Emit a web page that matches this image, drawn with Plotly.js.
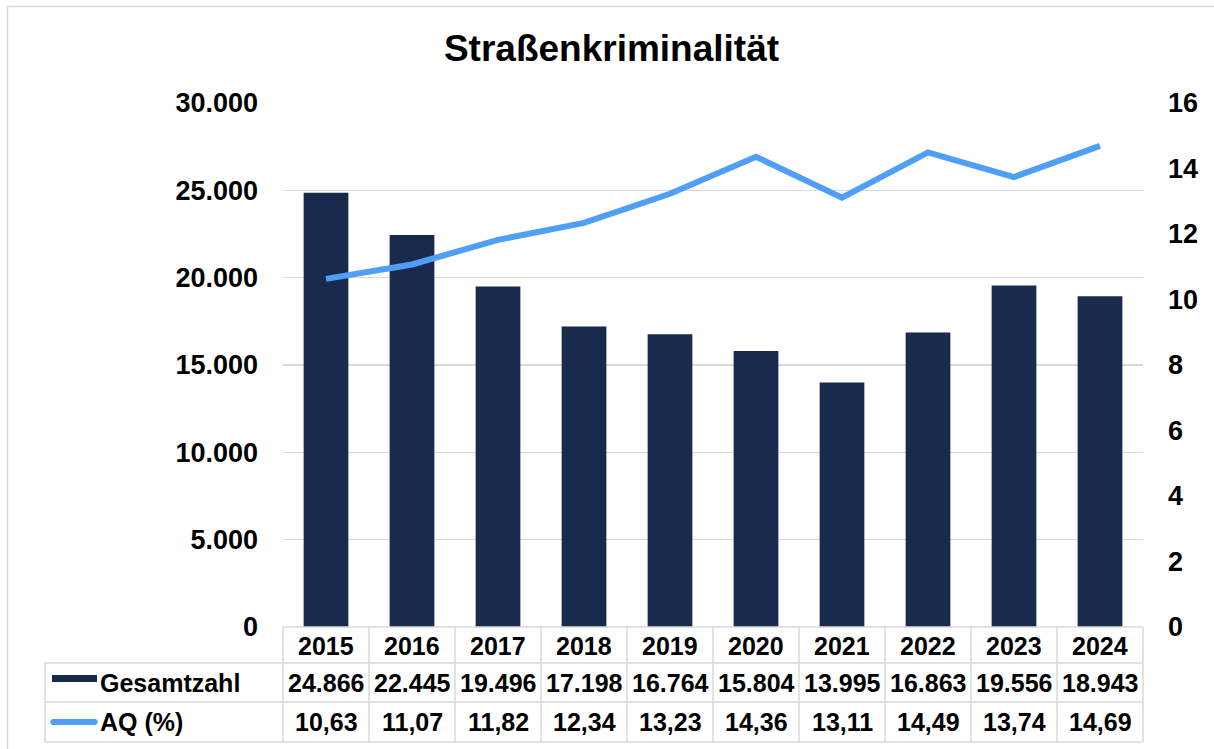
<!DOCTYPE html>
<html>
<head>
<meta charset="utf-8">
<script src="https://cdn.plot.ly/plotly-3.0.1.min.js"></script>
<style>html,body{margin:0;padding:0;background:#fff;}#chart{width:1214px;height:749px;}</style>
</head>
<body>
<div id="chart"></div>
<script>
// ---- data ----
var years = ["2015","2016","2017","2018","2019","2020","2021","2022","2023","2024"];
var gesamtzahl = [24866, 22445, 19496, 17198, 16764, 15804, 13995, 16863, 19556, 18943];
var aq = [10.63, 11.07, 11.82, 12.34, 13.23, 14.36, 13.11, 14.49, 13.74, 14.69];
var seriesNames = ["Gesamtzahl", "AQ (%)"];
var titleText = "Straßenkriminalität";

// ---- styling / layout helpers ----
var W = 1214, H = 749;
var L = 283, R = 1143, T = 103, B = 627;
var FONT = "Liberation Sans, Arial, Helvetica, sans-serif";
var barColor = "#192b4d", lineColor = "#4f9ef8", gridColor = "#d9d9d9";
function px(x){ return (x - L) / (R - L); }
function py(y){ return (B - y) / (B - T); }
function fmtInt(v){ return String(v).replace(/\B(?=(\d{3})+(?!\d))/g, "."); }
function fmtDec(v){ return v.toFixed(2).replace(".", ","); }

var traces = [
  { type: "bar", x: years, y: gesamtzahl, name: seriesNames[0],
    marker: { color: barColor }, hoverinfo: "skip", yaxis: "y" },
  { type: "scatter", mode: "lines", x: years, y: aq, name: seriesNames[1],
    line: { color: lineColor, width: 6 }, hoverinfo: "skip", yaxis: "y2" }
];

var shapes = [];
var lineStyle = { color: gridColor, width: 1.5 };
// outer chart border
shapes.push({ type: "rect", xref: "paper", yref: "paper",
  x0: px(7.5), x1: px(1230), y0: py(6.5), y1: py(770),
  line: { color: gridColor, width: 1.5 }, fillcolor: "rgba(0,0,0,0)", layer: "below" });
// table horizontal lines
shapes.push({ type: "line", xref: "paper", yref: "paper", x0: 0, x1: 1, y0: 0, y1: 0, line: lineStyle });
[663, 702, 742].forEach(function(y){
  shapes.push({ type: "line", xref: "paper", yref: "paper", x0: px(45), x1: 1, y0: py(y), y1: py(y), line: lineStyle });
});
// table vertical lines
shapes.push({ type: "line", xref: "paper", yref: "paper", x0: px(45), x1: px(45), y0: py(663), y1: py(742), line: lineStyle });
for (var i = 0; i <= years.length; i++) {
  var xp = i / years.length;
  shapes.push({ type: "line", xref: "paper", yref: "paper", x0: xp, x1: xp, y0: 0, y1: py(742), line: lineStyle });
}
// legend keys
shapes.push({ type: "rect", xref: "paper", yref: "paper", x0: px(52), x1: px(97), y0: py(675), y1: py(682),
  fillcolor: barColor, line: { width: 0 } });
shapes.push({ type: "path", xref: "paper", yref: "paper",
  path: "M" + px(52) + "," + py(719) + " L" + px(96) + "," + py(719) +
        " Q" + px(99.5) + "," + py(722) + " " + px(96) + "," + py(725) +
        " L" + px(52) + "," + py(725) +
        " Q" + px(48.5) + "," + py(722) + " " + px(52) + "," + py(719) + " Z",
  fillcolor: lineColor, line: { width: 0 } });

var annotations = [];
var tFont = { family: FONT, size: 25, color: "#000000" };
for (var j = 0; j < years.length; j++) {
  annotations.push({ xref: "x", yref: "paper", x: j, y: py(646), text: "<b>" + years[j] + "</b>",
    showarrow: false, font: tFont, xanchor: "center", yanchor: "middle" });
  annotations.push({ xref: "x", yref: "paper", x: j, y: py(683), text: "<b>" + fmtInt(gesamtzahl[j]) + "</b>",
    showarrow: false, font: tFont, xanchor: "center", yanchor: "middle" });
  annotations.push({ xref: "x", yref: "paper", x: j, y: py(722), text: "<b>" + fmtDec(aq[j]) + "</b>",
    showarrow: false, font: tFont, xanchor: "center", yanchor: "middle" });
}
annotations.push({ xref: "paper", yref: "paper", x: px(98), y: py(683), text: "<b>" + seriesNames[0] + "</b>",
  showarrow: false, font: tFont, xanchor: "left", yanchor: "middle" });
annotations.push({ xref: "paper", yref: "paper", x: px(98), y: py(722), text: "<b>" + seriesNames[1] + "</b>",
  showarrow: false, font: tFont, xanchor: "left", yanchor: "middle" });

var layout = {
  width: W, height: H,
  margin: { l: L, r: W - R, t: T, b: H - B, pad: 0 },
  paper_bgcolor: "#ffffff", plot_bgcolor: "#ffffff",
  separators: ",.",
  showlegend: false,
  bargap: 0.48,
  title: { text: "<b>" + titleText + "</b>", font: { family: FONT, size: 37, color: "#000000" },
    x: 611.5 / W, xref: "container", xanchor: "center", y: 1 - 48 / H, yref: "container", yanchor: "middle" },
  xaxis: { type: "category", range: [-0.5, years.length - 0.5], showticklabels: false,
    showgrid: false, zeroline: false, showline: false, ticks: "", fixedrange: true },
  yaxis: { range: [0, 30000], dtick: 5000, tick0: 0, tickformat: ",d",
    showgrid: true, gridcolor: gridColor, gridwidth: 1.5, zeroline: false, showline: false,
    ticks: "", ticklabelstandoff: 24,
    tickfont: { family: FONT, size: 27, color: "#000000", weight: "bold" }, fixedrange: true },
  yaxis2: { range: [0, 16], dtick: 2, tick0: 0, overlaying: "y", side: "right",
    showgrid: false, zeroline: false, showline: false, ticks: "", ticklabelstandoff: 24,
    tickfont: { family: FONT, size: 27, color: "#000000", weight: "bold" }, fixedrange: true },
  shapes: shapes,
  annotations: annotations
};

Plotly.newPlot("chart", traces, layout, { displayModeBar: false, staticPlot: true });
</script>
</body>
</html>
